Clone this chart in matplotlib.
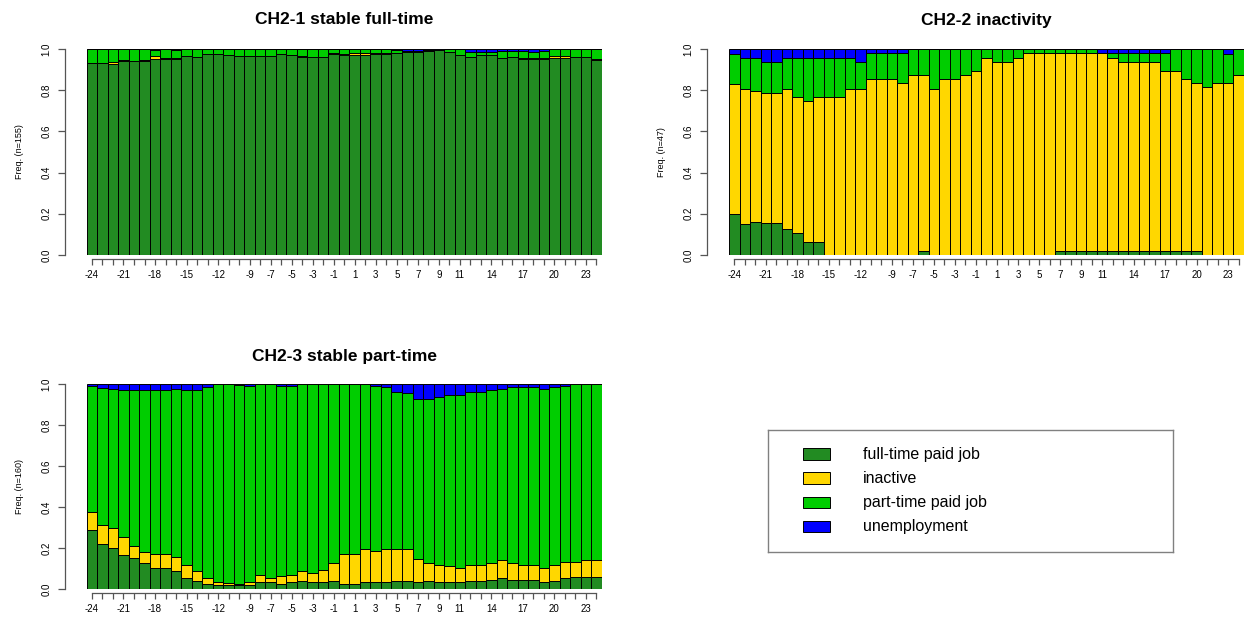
import matplotlib
matplotlib.use("Agg")
import matplotlib.pyplot as plt
from matplotlib.patches import Rectangle

plt.rcParams["font.family"] = ["Liberation Sans", "DejaVu Sans"]

# Time positions relative to the event
positions = list(range(-24, 25))
shown_labels = [-24, -21, -18, -15, -12, -9, -7, -5, -3, -1,
                1, 3, 5, 7, 9, 11, 14, 17, 20, 23]

states = ["full-time paid job", "inactive", "part-time paid job", "unemployment"]
state_colors = ["#228B22", "#FFD700", "#00CD00", "#0000FF"]

# ---- CH2-1 stable full-time (n=155) ----
c1_title = "CH2-1 stable full-time"
c1_n = 155
c1_fulltime = [.930, .930, .929, .942, .940, .942, .951, .950, .950, .964,
               .961, .974, .974, .971, .964, .964, .964, .964, .974, .971,
               .961, .960, .960, .974, .971, .969, .969, .974, .974, .982,
               .984, .984, .990, .9935, .987, .971, .963, .969, .969, .958,
               .961, .950, .950, .950, .958, .958, .963, .963, .945]
c1_inactive = [0, 0, .0065, .0065, 0, .0065, .013, .0065, .0065, 0,
               0, 0, 0, 0, 0, 0, 0, 0, 0, 0,
               .0065, 0, 0, .0065, .0065, .013, .013, .0065, .0065, 0,
               0, 0, 0, 0, 0, 0, 0, 0, 0, 0,
               0, .0065, .0065, .0065, .0065, .0065, 0, 0, .0065]
c1_parttime = [.070, .070, .0645, .0515, .060, .0515, .0295, .0435, .037, .036,
               .039, .026, .026, .029, .036, .036, .036, .036, .026, .029,
               .0325, .040, .040, .0195, .0225, .018, .018, .0195, .0195, .0115,
               .006, .006, .0035, 0, .013, .029, .021, .018, .018, .030,
               .027, .0315, .0275, .0315, .0355, .0355, .037, .037, .0485]
c1_unemp = [0, 0, 0, 0, 0, 0, .0065, 0, .0065, 0,
            0, 0, 0, 0, 0, 0, 0, 0, 0, 0,
            0, 0, 0, 0, 0, 0, 0, 0, 0, .0065,
            .010, .010, .0065, .0065, 0, 0, .016, .013, .013, .012,
            .012, .012, .016, .012, 0, 0, 0, 0, 0]

# ---- CH2-2 inactivity (n=47) ----
c2_title = "CH2-2 inactivity"
c2_n = 47
c2_fulltime = [.198, .150, .159, .153, .153, .125, .106, .063, .063, 0,
               0, 0, 0, 0, 0, 0, 0, 0, .021, 0,
               0, 0, 0, 0, 0, 0, 0, 0, 0, 0,
               0, .021, .021, .021, .021, .021, .021, .021, .021, .021,
               .021, .021, .021, .021, .021, 0, 0, 0, 0]
c2_inactive = [.630, .655, .638, .631, .631, .683, .661, .683, .704, .767,
               .767, .808, .808, .852, .852, .852, .833, .876, .852, .808,
               .852, .852, .873, .894, .958, .937, .937, .958, .979, .979,
               .979, .958, .958, .958, .958, .958, .937, .916, .916, .916,
               .916, .873, .873, .831, .812, .816, .837, .833, .873]
c2_parttime = [.146, .149, .157, .154, .154, .150, .191, .212, .191, .191,
               .191, .150, .129, .127, .127, .127, .146, .124, .127, .192,
               .148, .148, .127, .106, .042, .063, .063, .042, .021, .021,
               .021, .021, .021, .021, .021, 0, .021, .042, .042, .042,
               .042, .085, .106, .148, .167, .184, .163, .141, .127]
c2_unemp = [.026, .046, .046, .062, .062, .042, .042, .042, .042, .042,
            .042, .042, .063, .021, .021, .021, .021, 0, 0, 0,
            0, 0, 0, 0, 0, 0, 0, 0, 0, 0,
            0, 0, 0, 0, 0, .021, .021, .021, .021, .021,
            .021, .021, 0, 0, 0, 0, 0, .026, 0]

# ---- CH2-3 stable part-time (n=160) ----
c3_title = "CH2-3 stable part-time"
c3_n = 160
c3_fulltime = [.288, .218, .198, .164, .151, .125, .104, .101, .089, .054,
               .041, .023, .020, .018, .020, .020, .036, .033, .023, .033,
               .037, .033, .033, .037, .023, .023, .033, .033, .033, .041,
               .037, .033, .037, .033, .033, .033, .037, .037, .042, .052,
               .042, .042, .042, .033, .037, .052, .059, .059, .059]
c3_inactive = [.086, .094, .101, .091, .060, .057, .065, .068, .069, .063,
               .047, .032, .013, .013, .006, .013, .031, .022, .039, .034,
               .051, .047, .058, .088, .149, .149, .162, .154, .162, .154,
               .158, .112, .088, .084, .081, .068, .080, .080, .083, .088,
               .083, .075, .075, .071, .080, .081, .074, .081, .081]
c3_parttime = [.615, .667, .677, .716, .760, .789, .802, .802, .818, .854,
               .883, .929, .967, .969, .968, .956, .933, .945, .927, .922,
               .912, .920, .909, .875, .828, .828, .805, .802, .789, .768,
               .763, .780, .800, .820, .831, .844, .846, .846, .846, .836,
               .859, .867, .867, .870, .867, .856, .867, .860, .860]
c3_unemp = [.011, .021, .024, .029, .029, .029, .029, .029, .024, .029,
            .029, .016, 0, 0, .006, .011, 0, 0, .011, .011,
            0, 0, 0, 0, 0, 0, 0, .011, .016, .037,
            .042, .075, .075, .063, .055, .055, .037, .037, .029, .024,
            .016, .016, .016, .026, .016, .011, 0, 0, 0]

W, H = 1245, 620
fig = plt.figure(figsize=(W / 100, H / 100), dpi=100)


def frame(left, top, right, bottom):
    return [left / W, 1 - bottom / H, (right - left) / W, (bottom - top) / H]


def seq_panel(rect, title, n, series, title_xy, ylab_xy):
    ax = fig.add_axes(frame(*rect))
    base = [0.0] * len(positions)
    for vals, col in zip(series, state_colors):
        ax.bar(positions, vals, width=1.0, bottom=base, color=col,
               edgecolor="black", linewidth=0.7)
        base = [b + v for b, v in zip(base, vals)]
    ax.set_xlim(-24.5, 24.5)
    ax.set_ylim(0, 1)
    for side in ("top", "right"):
        ax.spines[side].set_visible(False)
    ax.spines["left"].set_position(("outward", 15.6))
    ax.spines["left"].set_bounds(0, 1)
    ax.spines["bottom"].set_position(("outward", 3.0))
    ax.spines["bottom"].set_bounds(-24, 24)
    for side in ("left", "bottom"):
        ax.spines[side].set_color("#555555")
        ax.spines[side].set_linewidth(0.9)
    ax.set_yticks([0, 0.2, 0.4, 0.6, 0.8, 1.0])
    ax.set_yticklabels(["0.0", "0.2", "0.4", "0.6", "0.8", "1.0"])
    ax.set_xticks(positions)
    ax.set_xticklabels([str(p) if p in shown_labels else "" for p in positions])
    ax.tick_params(axis="y", labelrotation=90, length=5, pad=5,
                   labelsize=7, color="#555555", width=0.9)
    ax.tick_params(axis="x", length=4, pad=3.5, labelsize=7,
                   color="#555555", width=0.9)
    for lab in ax.get_yticklabels():
        lab.set_verticalalignment("center")
    fig.text(title_xy[0] / W, 1 - title_xy[1] / H, title, ha="center",
             va="center", fontsize=12.5, fontweight="bold")
    fig.text(ylab_xy[0] / W, 1 - ylab_xy[1] / H, f"Freq. (n={n})",
             rotation=90, ha="center", va="center", fontsize=6.5)
    return ax


seq_panel((86.7, 49, 601.7, 255), c1_title, c1_n,
          [c1_fulltime, c1_inactive, c1_parttime, c1_unemp],
          (344, 20), (20, 152))
seq_panel((729, 49, 1244, 255), c2_title, c2_n,
          [c2_fulltime, c2_inactive, c2_parttime, c2_unemp],
          (986, 20), (662, 152))
seq_panel((86.7, 384, 601.7, 589), c3_title, c3_n,
          [c3_fulltime, c3_inactive, c3_parttime, c3_unemp],
          (344, 356), (20, 486))

# Legend box
lx0, ly0, lx1, ly1 = 768.3, 430, 1172.7, 551.7
lax = fig.add_axes(frame(lx0, ly0, lx1, ly1))
lax.set_xlim(0, lx1 - lx0)
lax.set_ylim(ly1 - ly0, 0)
lax.set_xticks([])
lax.set_yticks([])
for sp in lax.spines.values():
    sp.set_color("#808080")
    sp.set_linewidth(1.0)
for i, (name, col) in enumerate(zip(states, state_colors)):
    cy = 24 + i * 24.2
    lax.add_patch(Rectangle((34.4, cy - 5.85), 27.3, 11.7, facecolor=col,
                            edgecolor="black", linewidth=0.7))
    lax.text(95, cy, name, ha="left", va="center", fontsize=11.5)

fig.savefig("out.png", dpi=100)
